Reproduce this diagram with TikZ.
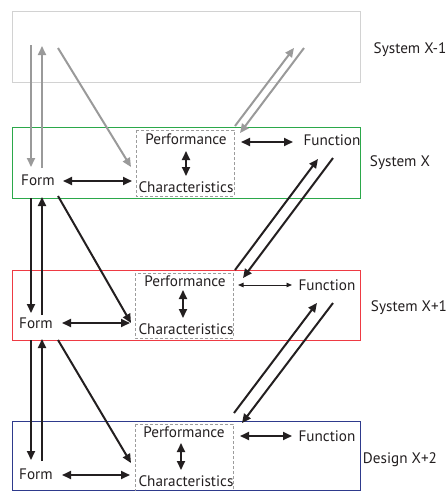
\documentclass[tikz,border=0pt]{standalone}
\usepackage{fontspec}
\setmainfont{PT Sans}
\usetikzlibrary{arrows.meta}
\definecolor{framegray}{HTML}{D2D2D2}
\definecolor{linkgray}{HTML}{9A9A9A}
\definecolor{dashgray}{HTML}{9C9C9C}
\definecolor{levelgreen}{HTML}{2BA84A}
\definecolor{levelred}{HTML}{EE3A43}
\definecolor{levelblue}{HTML}{2E3A8C}
\definecolor{ink}{HTML}{231F20}
\begin{document}
\begin{tikzpicture}[x=1pt,y=-1pt,
  font=\fontsize{15.2}{17}\selectfont,
  txt/.style={inner sep=0pt, text=ink},
  level/.style={line width=0.9pt},
  pcbox/.style={draw=dashgray, dashed, line width=0.8pt, dash pattern=on 3pt off 2pt},
  link/.style={line width=2pt, draw=ink, -{Triangle[length=9pt,width=8pt]}},
  dlink/.style={line width=2pt, draw=ink, {Triangle[length=9pt,width=8pt]}-{Triangle[length=9pt,width=8pt]}},
  thinlink/.style={line width=0.9pt, draw=ink, {Triangle[length=5.5pt,width=4.5pt]}-{Triangle[length=5.5pt,width=4.5pt]}},
  glink/.style={line width=2pt, draw=linkgray, -{Triangle[length=9pt,width=8pt]}}]
\useasboundingbox (0,0) rectangle (446,491);

% level frames
\draw[level, draw=framegray]  (12,11)  rectangle (360,82);
\draw[level, draw=levelgreen] (12,127) rectangle (360,198);
\draw[level, draw=levelred]   (12,270) rectangle (360,340);
\draw[level, draw=levelblue]  (12,421) rectangle (360,490);

% performance / characteristics groups
\draw[pcbox] (136,130) rectangle (234,196);
\draw[pcbox] (135,273) rectangle (233,338);
\draw[pcbox] (135,424) rectangle (233,495);

% level names
\node[txt] (lvA) at (410,50)  {System X-1};
\node[txt] (lvB) at (400,163) {System X};
\node[txt] (lvC) at (409,308) {System X+1};
\node[txt] (lvD) at (400,460) {Design X+2};

% System X
\node[txt] (perfB) at (186,139) {Performance};
\node[txt] (charB) at (186,187) {Characteristics};
\node[txt] (funcB) at (332,140) {Function};
\node[txt] (formB) at (38,180)  {Form};
% System X+1
\node[txt] (perfC) at (185,281) {Performance};
\node[txt] (charC) at (186,329) {Characteristics};
\node[txt] (funcC) at (327,285) {Function};
\node[txt] (formC) at (36,323)  {Form};
% Design X+2
\node[txt] (perfD) at (184,432) {Performance};
\node[txt] (charD) at (186,481) {Characteristics};
\node[txt] (funcD) at (327,436) {Function};
\node[txt] (formD) at (36,474)  {Form};

% arrow end points
\coordinate (a1s) at (31,45);   \coordinate (a1e) at (31,167);
\coordinate (a2s) at (42,168);  \coordinate (a2e) at (42,46);
\coordinate (a3s) at (58,48);   \coordinate (a3e) at (131,167);
\coordinate (a4s) at (235,126); \coordinate (a4e) at (294,48);
\coordinate (a5s) at (304,48);  \coordinate (a5e) at (240,133);

\coordinate (b1s) at (31,198);  \coordinate (b1e) at (31,313);
\coordinate (b2s) at (42,315);  \coordinate (b2e) at (42,197);
\coordinate (b3s) at (58,196);  \coordinate (b3e) at (131,323);
\coordinate (b4s) at (235,270); \coordinate (b4e) at (318,159);
\coordinate (b5s) at (333,158); \coordinate (b5e) at (243,278);

\coordinate (c1s) at (31,340);  \coordinate (c1e) at (31,460);
\coordinate (c2s) at (42,461);  \coordinate (c2e) at (42,339);
\coordinate (c3s) at (58,340);  \coordinate (c3e) at (131,463);
\coordinate (c4s) at (234,413); \coordinate (c4e) at (317,303);
\coordinate (c5s) at (333,303); \coordinate (c5e) at (242,423);

% from System X-1
\draw[glink] (a1s) -- (a1e);
\draw[glink] (a2s) -- (a2e);
\draw[glink] (a3s) -- (a3e);
\draw[glink] (a4s) -- (a4e);
\draw[glink] (a5s) -- (a5e);

% between System X and System X+1
\draw[link] (b1s) -- (b1e);
\draw[link] (b2s) -- (b2e);
\draw[link] (b3s) -- (b3e);
\draw[link] (b4s) -- (b4e);
\draw[link] (b5s) -- (b5e);

% between System X+1 and Design X+2
\draw[link] (c1s) -- (c1e);
\draw[link] (c2s) -- (c2e);
\draw[link] (c3s) -- (c3e);
\draw[link] (c4s) -- (c4e);
\draw[link] (c5s) -- (c5e);

% links inside each level
\draw[dlink] (63,181) coordinate (fcB1) -- (132,181) coordinate (fcB2);
\draw[dlink] (241,142) coordinate (pfB1) -- (293,142) coordinate (pfB2);
\draw[dlink] (186,151) coordinate (pcB1) -- (186,176) coordinate (pcB2);

\draw[dlink] (62,323) coordinate (fcC1) -- (130,323) coordinate (fcC2);
\draw[thinlink] (238,285) coordinate (pfC1) -- (292,285) coordinate (pfC2);
\draw[dlink] (183,290) coordinate (pcC1) -- (183,318) coordinate (pcC2);

\draw[dlink] (62,475) coordinate (fcD1) -- (130,475) coordinate (fcD2);
\draw[dlink] (240,436) coordinate (pfD1) -- (292,436) coordinate (pfD2);
\draw[dlink] (181,443) coordinate (pcD1) -- (181,470) coordinate (pcD2);
\end{tikzpicture}
\end{document}
